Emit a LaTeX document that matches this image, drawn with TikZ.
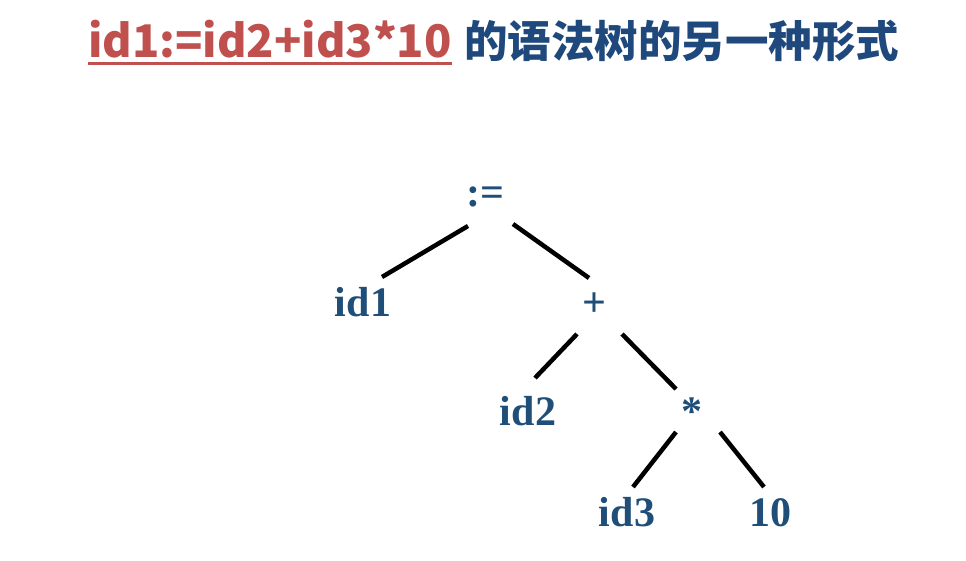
\documentclass[tikz,border=0pt]{standalone}
\usepackage{fontspec}
\setmainfont{Liberation Serif}
\newfontfamily\cjk{Noto Sans CJK SC}
\definecolor{treeblue}{HTML}{1F4E79}
\definecolor{titleblue}{HTML}{1F497D}
\definecolor{titlered}{HTML}{C0504D}
\begin{document}
\begin{tikzpicture}[x=1pt,y=-1pt,
  lbl/.style={font=\fontsize{42}{46}\selectfont\bfseries, text=treeblue, inner sep=0pt, anchor=base},
  edge/.style={line width=4.5pt, draw=black}]
\useasboundingbox (0,0) rectangle (966,560);
\fill[white] (0,0) rectangle (966,560);
% title
\node[anchor=base west, inner sep=0pt, text=titlered, font=\cjk\fontsize{45}{48}\selectfont\bfseries] (t1) at (88,57) {id1:=id2+id3*10};
\node[anchor=base west, inner sep=0pt, text=titleblue, font=\cjk\fontsize{43.5}{48}\selectfont\bfseries] (t2) at (464,57) {的语法树的另一种形式};
\draw[titlered, line width=3pt] (t1.south west |- 0,63) -- (t1.south east |- 0,63);
% tree
\node[lbl] (root) at (485,206) {:=};
\node[lbl] (id1) at (363,316) {id1};
\node[lbl] (plus) at (594,316) {+};
\node[lbl] (id2) at (528,425) {id2};
\node[lbl] (times) at (692,425) {*};
\node[lbl] (id3) at (627,526) {id3};
\node[lbl] (ten) at (770,526) {10};
\coordinate (e1a) at (468,226); \coordinate (e1b) at (382,277);
\coordinate (e2a) at (513,224); \coordinate (e2b) at (589,278);
\coordinate (e3a) at (577,334); \coordinate (e3b) at (535,378);
\coordinate (e4a) at (622,334); \coordinate (e4b) at (676,389);
\coordinate (e5a) at (676,432); \coordinate (e5b) at (633,487);
\coordinate (e6a) at (720,432); \coordinate (e6b) at (764,487);
\draw[edge] (e1a) -- (e1b);
\draw[edge] (e2a) -- (e2b);
\draw[edge] (e3a) -- (e3b);
\draw[edge] (e4a) -- (e4b);
\draw[edge] (e5a) -- (e5b);
\draw[edge] (e6a) -- (e6b);
\end{tikzpicture}
\end{document}
